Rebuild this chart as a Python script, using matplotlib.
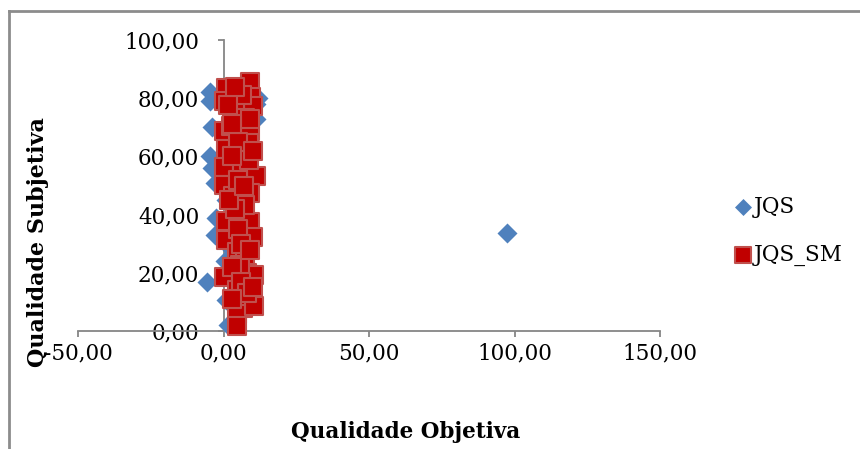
import matplotlib
matplotlib.use("Agg")
import matplotlib.pyplot as plt
from matplotlib.ticker import FuncFormatter
from matplotlib.lines import Line2D

# JQS series (objective quality, subjective quality)
jqs_x = [-4.5, -4.5, -4.0, -4.5, -4.0, -3.0, -2.5, -3.0, -5.8, 0.5, 1.0, 1.5,
         11.3, 11.3, 12.0, 1.0, 3.0, 6.0, 8.0, 2.0, 5.0, 97.4]
jqs_y = [82.0, 79.0, 70.0, 60.0, 56.0, 51.0, 39.0, 33.0, 17.0, 24.0, 10.7, 2.0,
         78.0, 73.0, 80.0, 45.0, 28.0, 64.0, 15.0, 66.0, 42.0, 33.7]

# JQS_SM series
sm_x = [0.7, 0.0, 9.2, 9.6, 10.3, 3.8, 7.5, 0.3, 9.2, 8.6, 0.7, 7.2, 0.3, 6.5,
        11.3, 0.3, 3.4, 9.2, 6.2, 0.7, 9.2, 10.3, 1.0, 4.8, 7.5, 8.2, 0.0, 10.6,
        4.8, 9.6, 6.8, 4.8, 10.6, 4.5, 6.2, 1.4, 8.9, 2.7, 7.5, 5.5,
        4.0, 5.0, 3.0, 5.0, 4.0, 5.0, 6.0, 3.0, 6.0, 8.0, 3.0, 10.0, 9.0, 2.0,
        7.0, 10.0, 9.0, 3.0]
sm_y = [83.5, 79.0, 85.6, 80.4, 77.3, 75.3, 73.2, 68.7, 68.7, 64.6, 62.5, 60.8,
        56.4, 56.4, 53.3, 50.2, 46.4, 47.4, 40.5, 37.8, 37.5, 32.3, 31.3, 27.1,
        23.7, 19.9, 18.6, 19.2, 14.1, 10.7, 7.9, 5.8, 8.6, 1.7, 81.1, 77.5,
        58.8, 70.5, 43.3, 22.7,
        84.0, 65.0, 60.0, 52.0, 42.0, 35.0, 30.0, 22.0, 17.0, 13.0, 11.0, 15.0,
        28.0, 45.0, 50.0, 62.0, 73.0, 71.0]

x_ticks = [-50, 0, 50, 100, 150]
y_ticks = [0, 20, 40, 60, 80, 100]

blue = "#4F81BD"
red_fill = "#C00000"
red_edge = "#C0504D"
axis_gray = "#868686"

plt.rcParams["font.family"] = ["DejaVu Serif"]

fig = plt.figure(figsize=(8.6, 4.49), dpi=100)
ax = fig.add_axes([78 / 860, 1 - 331 / 449, 582 / 860, 291 / 449])

ax.scatter(jqs_x, jqs_y, marker="D", s=104, color=blue, linewidths=0,
           label="JQS", clip_on=False, zorder=3)
ax.scatter(sm_x, sm_y, marker="s", s=169, facecolor=red_fill,
           edgecolor=red_edge, linewidths=1.5, label="JQS_SM",
           clip_on=False, zorder=4)

ax.set_xlim(-50, 150)
ax.set_ylim(0, 100)
ax.set_xticks(x_ticks)
ax.set_yticks(y_ticks)

comma = FuncFormatter(lambda v, pos: f"{v:.2f}".replace(".", ","))
ax.xaxis.set_major_formatter(comma)
ax.yaxis.set_major_formatter(comma)

for side in ("top", "right"):
    ax.spines[side].set_visible(False)
ax.spines["left"].set_position(("data", 0))
ax.spines["bottom"].set_position(("data", 0))
for side in ("left", "bottom"):
    ax.spines[side].set_color(axis_gray)
    ax.spines[side].set_linewidth(1.3)

ax.tick_params(axis="both", direction="out", length=4.5, width=1.3,
               color=axis_gray, labelsize=15.5)
ax.tick_params(axis="y", pad=13)
ax.tick_params(axis="x", pad=4)

fig.text(406 / 860, 1 - 432 / 449, "Qualidade Objetiva", ha="center",
         va="center", fontsize=15.5, fontweight="bold")
fig.text(38 / 860, 1 - 242 / 449, "Qualidade Subjetiva", ha="center",
         va="center", rotation=90, fontsize=16, fontweight="bold")

ax.legend(loc="center left", bbox_to_anchor=(721 / 860, 1 - 231 / 449),
          bbox_transform=fig.transFigure, frameon=False, fontsize=15.5,
          handletextpad=0.0, labelspacing=1.2, borderpad=0,
          handlelength=1.0, markerscale=0.85)

# outer chart frame
frame = dict(color="#8C8C8C", linewidth=2, transform=fig.transFigure)
fig.add_artist(Line2D([9 / 860, 9 / 860], [0, 1 - 11 / 449], **frame))
fig.add_artist(Line2D([9 / 860, 1], [1 - 11 / 449, 1 - 11 / 449], **frame))

fig.savefig("out.png", dpi=100)
